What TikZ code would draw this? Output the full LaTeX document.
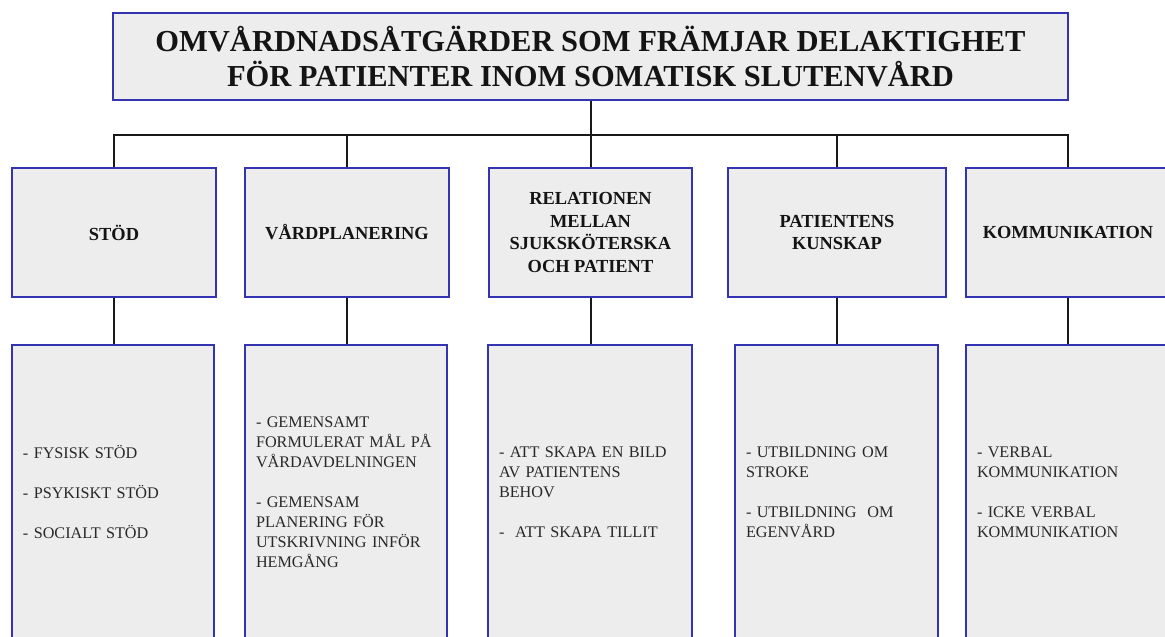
\documentclass[tikz,border=0pt]{standalone}
\usepackage{fontspec}
\setmainfont{Liberation Serif}
\definecolor{bord}{RGB}{52,52,178}
\definecolor{boxfill}{RGB}{237,237,237}
\definecolor{txtgray}{RGB}{40,40,40}
\definecolor{txtdark}{RGB}{20,20,20}
\begin{document}
\begin{tikzpicture}[x=1pt,y=-1pt,
  box/.style={draw=bord, line width=2.4pt, fill=boxfill, rectangle, inner sep=0pt},
  titlebox/.style={box, minimum width=955pt, minimum height=87pt, align=center,
    font=\fontsize{30.5}{35}\selectfont\bfseries, text=txtdark},
  catbox/.style={box, minimum height=129pt, align=center,
    font=\fontsize{18.4}{22.7}\selectfont\bfseries, text=txtdark},
  itembox/.style={box, minimum height=295pt, inner xsep=11pt, align=left,
    font=\fontsize{16.2}{20}\selectfont, text=txtgray},
  conn/.style={draw=black!90, line width=2pt}]
\useasboundingbox (0,0) rectangle (1165,637);
\fill[white] (0,0) rectangle (1165,637);
\clip (0,0) rectangle (1165,637);

\node[titlebox] (title) at (590.5,56.5) {OMVÅRDNADSÅTGÄRDER SOM FRÄMJAR DELAKTIGHET\\FÖR PATIENTER INOM SOMATISK SLUTENVÅRD};

\node[catbox, minimum width=204pt] (c1) at (114,232.5) {STÖD};
\node[catbox, minimum width=204pt] (c2) at (347,232.5) {VÅRDPLANERING};
\node[catbox, minimum width=203pt] (c3) at (590.5,232.5) {RELATIONEN\\MELLAN\\SJUKSKÖTERSKA\\OCH PATIENT};
\node[catbox, minimum width=218pt] (c4) at (837,232.5) {PATIENTENS\\KUNSKAP};
\node[catbox, minimum width=204pt] (c5) at (1068,232.5) {KOMMUNIKATION};

\node[itembox, text width=180pt] (i1) at (113,492.5) {- FYSISK STÖD\\[20pt]- PSYKISKT STÖD\\[20pt]- SOCIALT STÖD};
\node[itembox, text width=180pt] (i2) at (346,492.5) {- GEMENSAMT\\FORMULERAT\ MÅL\ PÅ\\VÅRDAVDELNINGEN\\[20pt]- GEMENSAM\\PLANERING FÖR\\UTSKRIVNING INFÖR\\HEMGÅNG};
\node[itembox, text width=182pt] (i3) at (590,492.5) {- ATT SKAPA EN BILD\\AV PATIENTENS\\BEHOV\\[20pt]-~ ATT SKAPA TILLIT};
\node[itembox, text width=181pt] (i4) at (836.5,492.5) {- UTBILDNING OM\\STROKE\\[20pt]- UTBILDNING~ OM\\EGENVÅRD};
\node[itembox, text width=182pt] (i5) at (1068,492.5) {- VERBAL\\KOMMUNIKATION\\[20pt]- ICKE VERBAL\\KOMMUNIKATION};

\coordinate (bus) at (590.5,135);
\draw[conn] (title.south) -- (c3.north);
\draw[conn] (c1.north) |- (bus) -| (c5.north);
\draw[conn] (c2.north) -- (c2.north |- bus);
\draw[conn] (c4.north) -- (c4.north |- bus);
\draw[conn] (c1.south) -- (c1.south |- i1.north);
\draw[conn] (c2.south) -- (c2.south |- i2.north);
\draw[conn] (c3.south) -- (c3.south |- i3.north);
\draw[conn] (c4.south) -- (c4.south |- i4.north);
\draw[conn] (c5.south) -- (c5.south |- i5.north);
\end{tikzpicture}
\end{document}
